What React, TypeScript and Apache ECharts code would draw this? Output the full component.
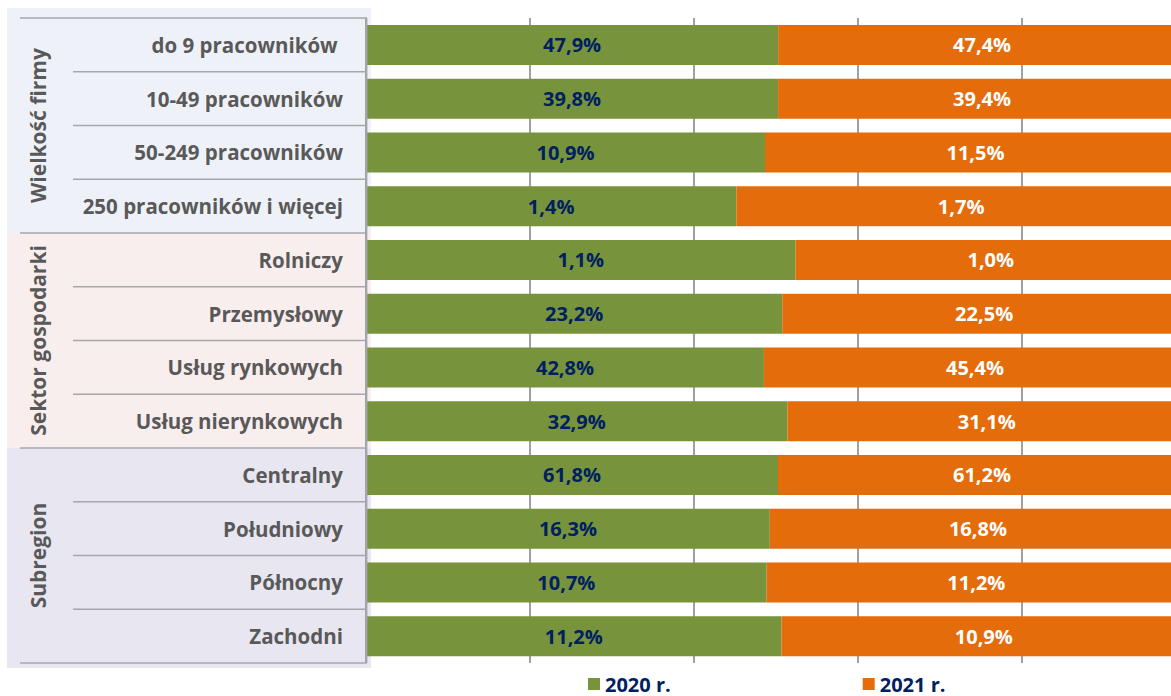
import React, { useEffect, useRef } from "react";
import * as echarts from "echarts";

const categories = [
  "do 9 pracowników ",
  "10-49 pracowników",
  "50-249 pracowników",
  "250 pracowników i więcej",
  "Rolniczy",
  "Przemysłowy",
  "Usług rynkowych",
  "Usług nierynkowych",
  "Centralny",
  "Południowy",
  "Północny",
  "Zachodni",
];
const values2020 = [47.9, 39.8, 10.9, 1.4, 1.1, 23.2, 42.8, 32.9, 61.8, 16.3, 10.7, 11.2];
const values2021 = [47.4, 39.4, 11.5, 1.7, 1.0, 22.5, 45.4, 31.1, 61.2, 16.8, 11.2, 10.9];
const groups = ["Wielkość firmy", "Sektor gospodarki", "Subregion"];
const groupSize = 4;
const seriesNames = ["2020 r.", "2021 r."];

const GREEN = "#77933C";
const ORANGE = "#E46C0A";
const NAVY = "#002060";
const GRAY_TEXT = "#595959";
const LINE = "#A6A6AE";
const GROUP_BG = ["#EEF2F8", "#F9EEEE", "#E8E6F0"];
const FONT = "'Open Sans', 'DejaVu Sans', sans-serif";

const GRID_LEFT = 366;
const GRID_TOP = 18;
const GRID_W = 820;
const GRID_H = 645;

const fmt = (v: number) => v.toFixed(1).replace(".", ",") + "%";

export default function App() {
  const ref = useRef<HTMLDivElement>(null);
  useEffect(() => {
    if (!ref.current) return;
    const chart = echarts.init(ref.current, undefined, { renderer: "svg" });
    const totals = values2020.map((v, i) => v + values2021[i]);
    const share2020 = values2020.map((v, i) => v / totals[i]);
    const share2021 = values2021.map((v, i) => v / totals[i]);
    const rowH = GRID_H / categories.length;

    const graphics: any[] = [];
    groups.forEach((g, gi) => {
      const yStart = GRID_TOP + gi * groupSize * rowH;
      const yEnd = GRID_TOP + (gi + 1) * groupSize * rowH;
      const top = gi === 0 ? yStart - 10 : yStart;
      const bottom = gi === groups.length - 1 ? yEnd + 5 : yEnd;
      graphics.push({
        type: "rect",
        z: -10,
        silent: true,
        shape: { x: 7, y: top, width: GRID_LEFT + 5 - 7, height: bottom - top },
        style: { fill: GROUP_BG[gi] },
      });
      graphics.push({
        type: "text",
        z: 10,
        x: 38,
        y: (yStart + yEnd) / 2,
        rotation: Math.PI / 2,
        style: {
          text: g,
          fill: GRAY_TEXT,
          font: `bold 21px ${FONT}`,
          textAlign: "center",
          textVerticalAlign: "middle",
        },
      });
    });
    for (let i = 0; i <= categories.length; i++) {
      const y = GRID_TOP + i * rowH;
      graphics.push({
        type: "line",
        z: 5,
        silent: true,
        shape: { x1: i % groupSize === 0 ? 20 : 73, y1: y, x2: GRID_LEFT + 1, y2: y },
        style: { stroke: LINE, lineWidth: 1.5 },
      });
    }
    graphics.push({
      type: "line",
      z: 5,
      silent: true,
      shape: { x1: GRID_LEFT + 0.5, y1: GRID_TOP, x2: GRID_LEFT + 0.5, y2: GRID_TOP + GRID_H },
      style: { stroke: LINE, lineWidth: 1.8 },
    });

    const labelBase = {
      show: true,
      position: "inside",
      fontFamily: FONT,
      fontWeight: "bold",
      fontSize: 20,
    };

    chart.setOption({
      animation: false,
      backgroundColor: "transparent",
      grid: { left: GRID_LEFT, top: GRID_TOP, width: GRID_W, height: GRID_H, containLabel: false },
      xAxis: {
        type: "value",
        min: 0,
        max: 1,
        interval: 0.2,
        axisLabel: { show: false },
        axisLine: { show: false },
        axisTick: { show: false },
        splitLine: { show: true, lineStyle: { color: "#A0A0A0", width: 2 } },
      },
      yAxis: {
        type: "category",
        inverse: true,
        data: categories,
        axisLine: { show: false },
        axisTick: { show: false },
        axisLabel: {
          margin: 23,
          color: GRAY_TEXT,
          fontFamily: FONT,
          fontWeight: "bold",
          fontSize: 20.5,
        },
      },
      legend: {
        left: 588,
        top: 674,
        padding: 0,
        itemWidth: 12,
        itemHeight: 12,
        itemGap: 192,
        icon: "rect",
        data: seriesNames,
        textStyle: { color: NAVY, fontFamily: FONT, fontWeight: "bold", fontSize: 20, lineHeight: 20 },
      },
      graphic: graphics,
      series: [
        {
          name: seriesNames[0],
          type: "bar",
          stack: "all",
          barWidth: 40,
          itemStyle: { color: GREEN },
          label: { ...labelBase, color: NAVY, formatter: (p: any) => fmt(values2020[p.dataIndex]) },
          data: share2020,
        },
        {
          name: seriesNames[1],
          type: "bar",
          stack: "all",
          barWidth: 40,
          itemStyle: { color: ORANGE },
          label: { ...labelBase, color: "#FFFFFF", formatter: (p: any) => fmt(values2021[p.dataIndex]) },
          data: share2021,
        },
      ],
    });
    return () => chart.dispose();
  }, []);

  return (
    <div
      style={{
        position: "fixed",
        left: 0,
        top: 0,
        width: 1171,
        height: 696,
        overflow: "hidden",
        background: "#FFFFFF",
      }}
    >
      <div ref={ref} style={{ width: 1200, height: 696 }} />
    </div>
  );
}
